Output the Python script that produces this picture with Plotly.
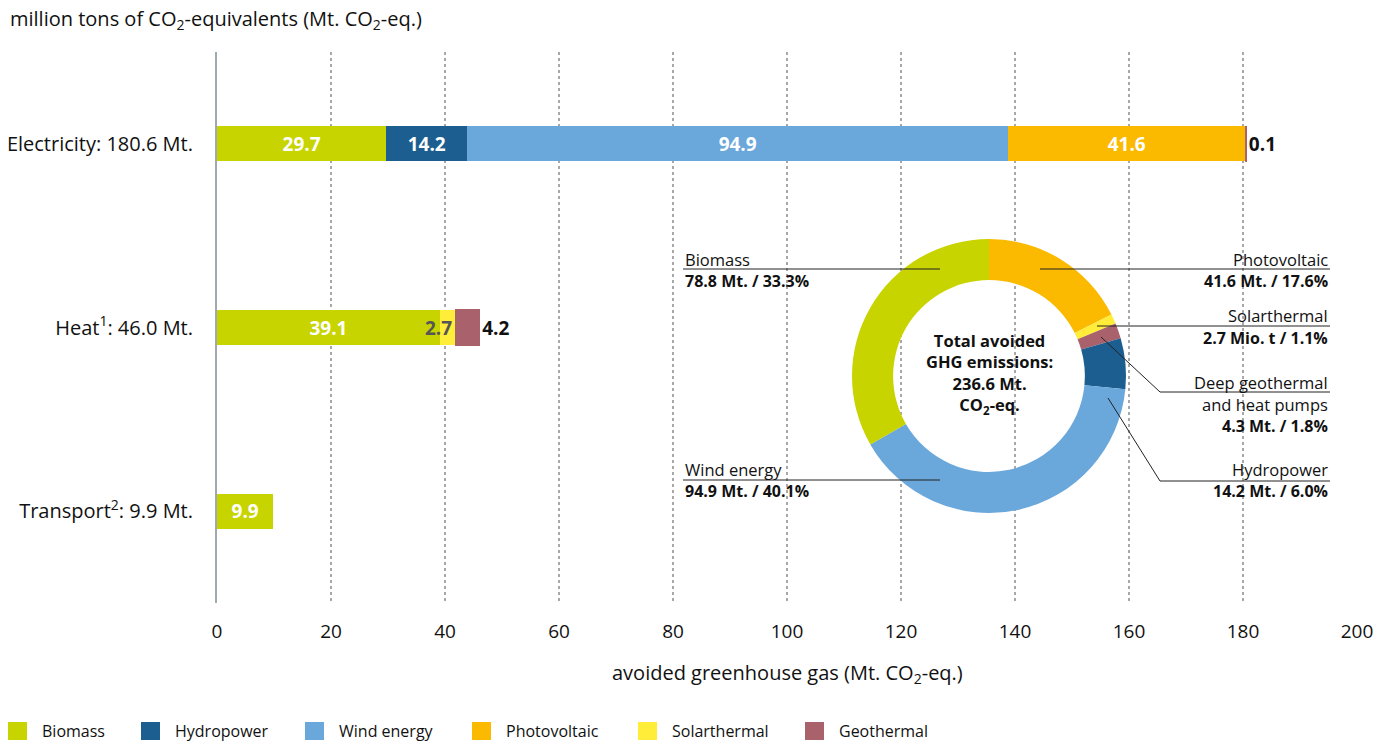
import plotly.graph_objects as go

# ---------------- data ----------------
categories = ["Electricity", "Heat", "Transport"]
category_labels = ["Electricity: 180.6 Mt.", "Heat<sup>1</sup>: 46.0 Mt.", "Transport<sup>2</sup>: 9.9 Mt."]
sources = ["Biomass", "Hydropower", "Wind energy", "Photovoltaic", "Solarthermal", "Geothermal"]
biomass = [29.7, 39.1, 9.9]
hydropower = [14.2, None, None]
wind_energy = [94.9, None, None]
photovoltaic = [41.6, None, None]
solarthermal = [None, 2.7, None]
geothermal = [0.1, 4.2, None]
x_ticks = [0, 20, 40, 60, 80, 100, 120, 140, 160, 180, 200]

donut_names = ["Photovoltaic", "Solarthermal", "Deep geothermal<br>and heat pumps", "Hydropower", "Wind energy", "Biomass"]
donut_values = [41.6, 2.7, 4.3, 14.2, 94.9, 78.8]
donut_value_text = ["41.6 Mt. / 17.6%", "2.7 Mio. t / 1.1%", "4.3 Mt. / 1.8%", "14.2 Mt. / 6.0%", "94.9 Mt. / 40.1%", "78.8 Mt. / 33.3%"]
total_text = "Total avoided<br>GHG emissions:<br>236.6 Mt.<br>CO<sub>2</sub>-eq."

colors = {
    "Biomass": "#c8d400",
    "Hydropower": "#1b5e8f",
    "Wind energy": "#6aa7db",
    "Photovoltaic": "#fbba00",
    "Solarthermal": "#ffed3a",
    "Geothermal": "#a9616c",
}
donut_colors = [colors["Photovoltaic"], colors["Solarthermal"], colors["Geothermal"],
                colors["Hydropower"], colors["Wind energy"], colors["Biomass"]]

FONT = "Open Sans"
W, H = 1389, 744
L, R, T, B = 217, 1357, 52, 603


def px(x):
    return (x - L) / (R - L)


def py(y):
    return (B - y) / (B - T)


fig = go.Figure()

series = [
    ("Biomass", biomass, "white", "inside", "middle"),
    ("Hydropower", hydropower, "white", "inside", "middle"),
    ("Wind energy", wind_energy, "white", "inside", "middle"),
    ("Photovoltaic", photovoltaic, "white", "inside", "middle"),
    ("Solarthermal", solarthermal, "#555555", "inside", "end"),
    ("Geothermal", geothermal, "#111111", "outside", "middle"),
]
for name, vals, tcol, tpos, anchor in series:
    ys = [c for c, v in zip(categories, vals) if v is not None]
    xs = [v for v in vals if v is not None]
    fig.add_trace(go.Bar(
        name=name, y=ys, x=xs, orientation="h",
        marker=dict(color=colors[name],
                    line=dict(color=colors[name], width=1.5 if name == "Geothermal" else 0)),
        width=0.19,
        text=[f"{v}" for v in xs], textposition=tpos, insidetextanchor=anchor, textangle=0,
        constraintext="none", cliponaxis=False,
        textfont=dict(family=FONT, size=19, color=tcol, weight="bold"),
        showlegend=False, hoverinfo="skip",
    ))

# donut
fig.add_trace(go.Pie(
    values=donut_values, labels=donut_names, hole=0.70, sort=False,
    direction="clockwise", rotation=0, textinfo="none",
    marker=dict(colors=donut_colors, line=dict(width=0)),
    domain=dict(x=[px(989 - 137), px(989 + 137)], y=[py(513), py(239)]),
    showlegend=False, hoverinfo="skip",
))

shapes = []
# white panel hiding grid lines behind the donut
shapes.append(dict(type="rect", xref="paper", yref="paper", layer="between",
                   x0=px(680), x1=px(1342), y0=py(572), y1=py(233),
                   fillcolor="white", line=dict(width=0)))

lc = dict(color="#222222", width=1)
leader_lines = [
    [(683, 269), (940, 269)],
    [(1040, 269), (1330, 269)],
    [(1097, 326), (1330, 326)],
    [(1101, 337), (1160, 392), (1330, 392)],
    [(1108, 398), (1160, 481), (1330, 481)],
    [(683, 480), (940, 480)],
]
for pts in leader_lines:
    for (x0, y0), (x1, y1) in zip(pts[:-1], pts[1:]):
        shapes.append(dict(type="line", xref="paper", yref="paper",
                           x0=px(x0), y0=py(y0), x1=px(x1), y1=py(y1), line=lc, layer="above"))

annotations = []
# top unit label
annotations.append(dict(xref="paper", yref="paper", x=px(8), y=py(20), xanchor="left", yanchor="middle",
                        text="million tons of CO<sub>2</sub>-equivalents (Mt. CO<sub>2</sub>-eq.)",
                        showarrow=False, font=dict(family=FONT, size=20, color="#111")))
# x axis title
annotations.append(dict(xref="paper", yref="paper", x=px(787), y=py(673), xanchor="center", yanchor="middle",
                        text="avoided greenhouse gas (Mt. CO<sub>2</sub>-eq.)",
                        showarrow=False, font=dict(family=FONT, size=20, color="#111")))
# donut centre
annotations.append(dict(xref="paper", yref="paper", x=px(989), y=py(373), xanchor="center", yanchor="middle",
                        text="<b>" + total_text.replace("<br>", "</b><br><b>") + "</b>",
                        showarrow=False, font=dict(family=FONT, size=16.5, color="#111")))

# donut labels: (index, x, anchor, label y-centers, value y-center)
label_pos = [
    (5, 683, "left", [259], 281),
    (0, 1330, "right", [259], 281),
    (1, 1330, "right", [316], 338),
    (2, 1330, "right", [382, 404], 426),
    (3, 1330, "right", [469], 491),
    (4, 683, "left", [469], 491),
]
for idx, x, anc, ys, yv in label_pos:
    parts = donut_names[idx].split("<br>")
    for part, yy in zip(parts, ys):
        annotations.append(dict(xref="paper", yref="paper", x=px(x), y=py(yy), xanchor=anc, yanchor="middle",
                                text=part, showarrow=False, font=dict(family=FONT, size=16.5, color="#111")))
    annotations.append(dict(xref="paper", yref="paper", x=px(x), y=py(yv), xanchor=anc, yanchor="middle",
                            text="<b>" + donut_value_text[idx] + "</b>", showarrow=False,
                            font=dict(family=FONT, size=16, color="#111")))

# manual legend
legend_x = [8, 141, 305, 472, 638, 805]
for name, lx in zip(sources, legend_x):
    shapes.append(dict(type="rect", xref="paper", yref="paper",
                       x0=px(lx), x1=px(lx + 19), y0=py(740), y1=py(722),
                       fillcolor=colors[name], line=dict(width=0)))
    annotations.append(dict(xref="paper", yref="paper", x=px(lx + 32), y=py(731), xanchor="left", yanchor="middle",
                            text=name, showarrow=False, font=dict(family=FONT, size=16, color="#111")))

fig.update_layout(
    width=W, height=H,
    margin=dict(l=L, r=W - R, t=T, b=H - B),
    barmode="stack",
    paper_bgcolor="white", plot_bgcolor="white",
    font=dict(family=FONT, size=18, color="#111"),
    shapes=shapes, annotations=annotations,
    xaxis=dict(range=[0, 200], tickvals=x_ticks, showgrid=True, gridcolor="#a8a8a8",
               griddash="dot", gridwidth=2, zeroline=False, showline=False, ticks="",
               automargin=False,
               ticklabelstandoff=15, tickfont=dict(family=FONT, size=19, color="#111")),
    yaxis=dict(categoryorder="array", categoryarray=categories, autorange="reversed",
               tickvals=categories, ticktext=category_labels, showline=True, automargin=False,
               linecolor="#9eaab0", linewidth=2, showgrid=False, zeroline=False, ticks="",
               ticklabelstandoff=18, tickfont=dict(family=FONT, size=20, color="#111")),
)

fig.write_html("out.html")
